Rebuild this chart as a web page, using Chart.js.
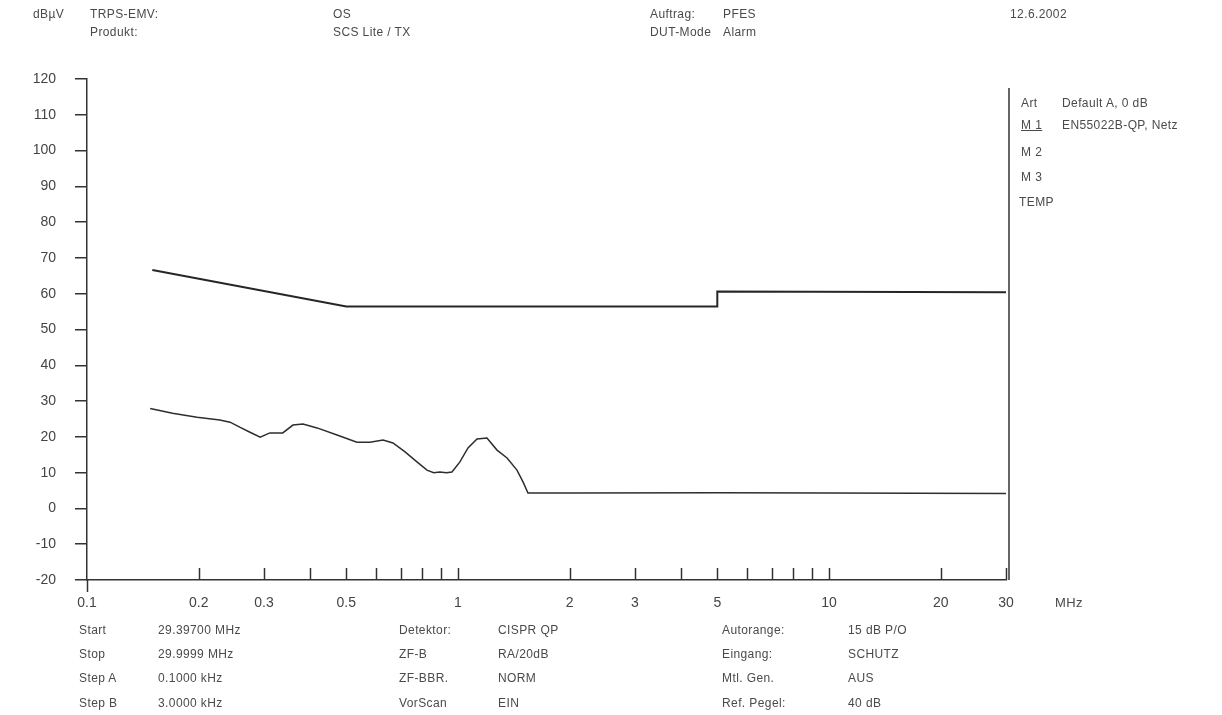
<!DOCTYPE html>
<html>
<head>
<meta charset="utf-8">
<script src="https://cdn.jsdelivr.net/npm/chart.js@4/dist/chart.umd.min.js"></script>
<style>
  body { margin: 0; background: #fff; }
  #wrap { position: relative; width: 1222px; height: 715px; overflow: hidden; }
  canvas { position: absolute; left: 0; top: 0; }
  .t { position: absolute; font: 12px "Liberation Sans", Arial, sans-serif; color: #4a4a4a;
       letter-spacing: 0.4px; white-space: nowrap; line-height: 14px; transform: translateY(-50%); }
</style>
</head>
<body>
<div id="wrap">
  <canvas id="chart" width="1222" height="715"></canvas>

  <!-- header -->
  <div class="t" style="left:33px;top:14px">dBµV</div>
  <div class="t" style="left:90px;top:14px">TRPS-EMV:</div>
  <div class="t" style="left:90px;top:32px">Produkt:</div>
  <div class="t" style="left:333px;top:14px">OS</div>
  <div class="t" style="left:333px;top:32px">SCS Lite / TX</div>
  <div class="t" style="left:650px;top:14px">Auftrag:</div>
  <div class="t" style="left:650px;top:32px">DUT-Mode</div>
  <div class="t" style="left:723px;top:14px">PFES</div>
  <div class="t" style="left:723px;top:32px">Alarm</div>
  <div class="t" style="left:1010px;top:14px">12.6.2002</div>

  <!-- legend -->
  <div class="t" style="left:1021px;top:103px">Art</div>
  <div class="t" style="left:1062px;top:103px">Default A, 0 dB</div>
  <div class="t" style="left:1021px;top:125px;text-decoration:underline">M 1</div>
  <div class="t" style="left:1062px;top:125px">EN55022B-QP, Netz</div>
  <div class="t" style="left:1021px;top:152px">M 2</div>
  <div class="t" style="left:1021px;top:177px">M 3</div>
  <div class="t" style="left:1019px;top:202px">TEMP</div>

  <div class="t" style="left:1055px;top:603px;font-size:13px">MHz</div>

  <!-- measurement settings -->
  <div class="t" style="left:79px;top:630px">Start</div>
  <div class="t" style="left:158px;top:630px">29.39700 MHz</div>
  <div class="t" style="left:79px;top:654px">Stop</div>
  <div class="t" style="left:158px;top:654px">29.9999 MHz</div>
  <div class="t" style="left:79px;top:678px">Step A</div>
  <div class="t" style="left:158px;top:678px">0.1000 kHz</div>
  <div class="t" style="left:79px;top:703px">Step B</div>
  <div class="t" style="left:158px;top:703px">3.0000 kHz</div>

  <div class="t" style="left:399px;top:630px">Detektor:</div>
  <div class="t" style="left:498px;top:630px">CISPR QP</div>
  <div class="t" style="left:399px;top:654px">ZF-B</div>
  <div class="t" style="left:498px;top:654px">RA/20dB</div>
  <div class="t" style="left:399px;top:678px">ZF-BBR.</div>
  <div class="t" style="left:498px;top:678px">NORM</div>
  <div class="t" style="left:399px;top:703px">VorScan</div>
  <div class="t" style="left:498px;top:703px">EIN</div>

  <div class="t" style="left:722px;top:630px">Autorange:</div>
  <div class="t" style="left:848px;top:630px">15 dB P/O</div>
  <div class="t" style="left:722px;top:654px">Eingang:</div>
  <div class="t" style="left:848px;top:654px">SCHUTZ</div>
  <div class="t" style="left:722px;top:678px">Mtl. Gen.</div>
  <div class="t" style="left:848px;top:678px">AUS</div>
  <div class="t" style="left:722px;top:703px">Ref. Pegel:</div>
  <div class="t" style="left:848px;top:703px">40 dB</div>
</div>

<script>
// limit line EN55022 class B QP (M 1)
const limitFreq = [0.15, 0.5, 5, 5, 30];
const limitLevel = [66.6, 56.4, 56.4, 60.6, 60.4];

// measured QP trace
const measFreq = [0.148, 0.170, 0.198, 0.228, 0.243, 0.258, 0.275, 0.293, 0.311, 0.337,
  0.359, 0.382, 0.417, 0.472, 0.534, 0.579, 0.628, 0.668, 0.720, 0.775,
  0.825, 0.860, 0.894, 0.930, 0.963, 1.012, 1.064, 1.125, 1.197, 1.274,
  1.356, 1.442, 1.497, 1.544, 2, 5, 10, 30];
const measLevel = [27.9, 26.6, 25.5, 24.7, 24.1, 22.7, 21.3, 19.9, 21.1, 21.1,
  23.3, 23.6, 22.5, 20.5, 18.5, 18.5, 19.1, 18.3, 15.8, 13.0,
  10.7, 10.0, 10.2, 10.0, 10.2, 13.0, 16.9, 19.4, 19.7, 16.3,
  14.1, 10.7, 7.4, 4.3, 4.3, 4.4, 4.3, 4.2];

const xTickValues = [0.1, 0.2, 0.3, 0.4, 0.5, 0.6, 0.7, 0.8, 0.9,
  1, 2, 3, 4, 5, 6, 7, 8, 9, 10, 20, 30];
const xTickLabels = { 0.1: "0.1", 0.2: "0.2", 0.3: "0.3", 0.5: "0.5", 1: "1", 2: "2",
  3: "3", 5: "5", 10: "10", 20: "20", 30: "30" };

const toPoints = (xs, ys) => xs.map((x, i) => ({ x: x, y: ys[i] }));

// small inward ticks on the frequency axis and the right frame line
const framePlugin = {
  id: "framePlugin",
  afterDraw: (chart) => {
    const { ctx, chartArea } = chart;
    const xs = chart.scales.x;
    ctx.save();
    ctx.strokeStyle = "#333";
    ctx.lineWidth = 1.5;
    xTickValues.forEach((v) => {
      const px = Math.round(xs.getPixelForValue(v)) + 0.5;
      ctx.beginPath();
      ctx.moveTo(px, chartArea.bottom);
      ctx.lineTo(px, v === 0.1 ? chartArea.bottom + 12 : chartArea.bottom - 12);
      ctx.stroke();
    });
    // right border of the diagram
    ctx.beginPath();
    ctx.moveTo(chartArea.right + 3, chartArea.top + 9);
    ctx.lineTo(chartArea.right + 3, chartArea.bottom);
    ctx.stroke();
    ctx.restore();
  },
};

new Chart(document.getElementById("chart").getContext("2d"), {
  type: "line",
  data: {
    datasets: [
      {
        label: "M 1",
        data: toPoints(limitFreq, limitLevel),
        borderColor: "#262626",
        borderWidth: 2,
        pointRadius: 0,
        tension: 0,
      },
      {
        label: "QP",
        data: toPoints(measFreq, measLevel),
        borderColor: "#2e2e2e",
        borderWidth: 1.5,
        pointRadius: 0,
        tension: 0,
      },
    ],
  },
  options: {
    responsive: false,
    animation: false,
    devicePixelRatio: 1,
    layout: { padding: { left: 0, top: 79, right: 216, bottom: 95 } },
    plugins: { legend: { display: false }, tooltip: { enabled: false } },
    scales: {
      x: {
        type: "logarithmic",
        min: 0.1,
        max: 30,
        afterBuildTicks: (scale) => {
          scale.ticks = xTickValues.map((v) => ({ value: v }));
        },
        afterFit: (scale) => { scale.height = 40; },
        ticks: {
          autoSkip: false,
          maxRotation: 0,
          padding: 15,
          color: "#444",
          font: { family: "Liberation Sans", size: 14 },
          callback: (v) => xTickLabels[v] || "",
        },
        grid: { drawOnChartArea: false, drawTicks: false },
        border: { display: true, color: "#333", width: 1.5 },
      },
      y: {
        min: -20,
        max: 120,
        afterFit: (scale) => { scale.width = 87; },
        ticks: {
          stepSize: 10,
          padding: 19,
          color: "#444",
          font: { family: "Liberation Sans", size: 14 },
        },
        grid: { drawOnChartArea: false, drawTicks: true, tickLength: 12, color: "#333", lineWidth: 1.5 },
        border: { display: true, color: "#333", width: 1.5 },
      },
    },
  },
  plugins: [framePlugin],
});
</script>
</body>
</html>
